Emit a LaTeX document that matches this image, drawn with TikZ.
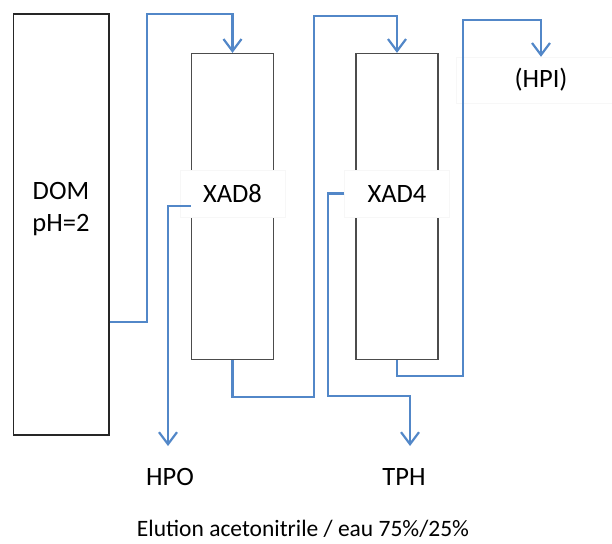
\documentclass[tikz,border=0pt]{standalone}
\usepackage{fontspec}
\setmainfont{Carlito}
\usetikzlibrary{arrows.meta, positioning}
\definecolor{flowblue}{RGB}{82,135,200}

\begin{document}
\begin{tikzpicture}[x=1pt, y=-1pt,
  column/.style={draw=black!70, line width=1.3pt, minimum width=82pt, minimum height=306pt, inner sep=0pt},
  tag/.style={fill=white, draw=black!3, inner sep=0pt, font=\fontsize{26.5}{30}\selectfont},
  txt/.style={inner sep=0pt, font=\fontsize{26.5}{31.5}\selectfont},
  flow/.style={draw=flowblue, line width=2.2pt, -{Straight Barb[length=12pt, width=18pt, line width=2.2pt]}}]
  \useasboundingbox (0,0) rectangle (612,543);

  % Sample reservoir
  \node[draw=black!85, line width=1.3pt, minimum width=95.5pt, minimum height=421pt] (dom) at (61.25,224.5) {};
  \node[txt, align=center] (domlab) at (61,209) {DOM\\pH=2};

  % Resin columns with their labels
  \foreach \n/\x/\t in {xad8/232.5/XAD8, xad4/397/XAD4} {
    \node[column] (\n) at (\x,206.5) {};
    \node[tag, minimum width=105pt, minimum height=47pt] (\n-lab) at (\x,193.5) {\t};
  }

  % Fractions
  \node[txt] (hpo) at (170,477) {HPO};
  \node[txt] (tph) at (404,477) {TPH};
  \node[tag, minimum width=170pt, minimum height=46pt] (hpi) at (541,80) {(HPI)};
  \node[txt, font=\fontsize{23.5}{28}\selectfont] (elution) at (303,529) {Elution acetonitrile / eau 75\%/25\%};
  \coordinate (hpo-in) at (168,446);
  \coordinate (tph-in) at (410,446);

  % Flow lines
  \draw[flow] (dom.east |- 0,322) -| (147,14) -| (xad8.north);
  \draw[flow] (xad8.west |- 0,206) -| (hpo-in);
  \draw[flow] (xad8.south) |- (314,397) |- (397,16) -- (xad4.north);
  \draw[flow] (xad4-lab.west) -| (328,396) -| (tph-in);
  \draw[flow] (xad4.south) |- (463,376) |- (541,20) -- (hpi.north);
\end{tikzpicture}
\end{document}
